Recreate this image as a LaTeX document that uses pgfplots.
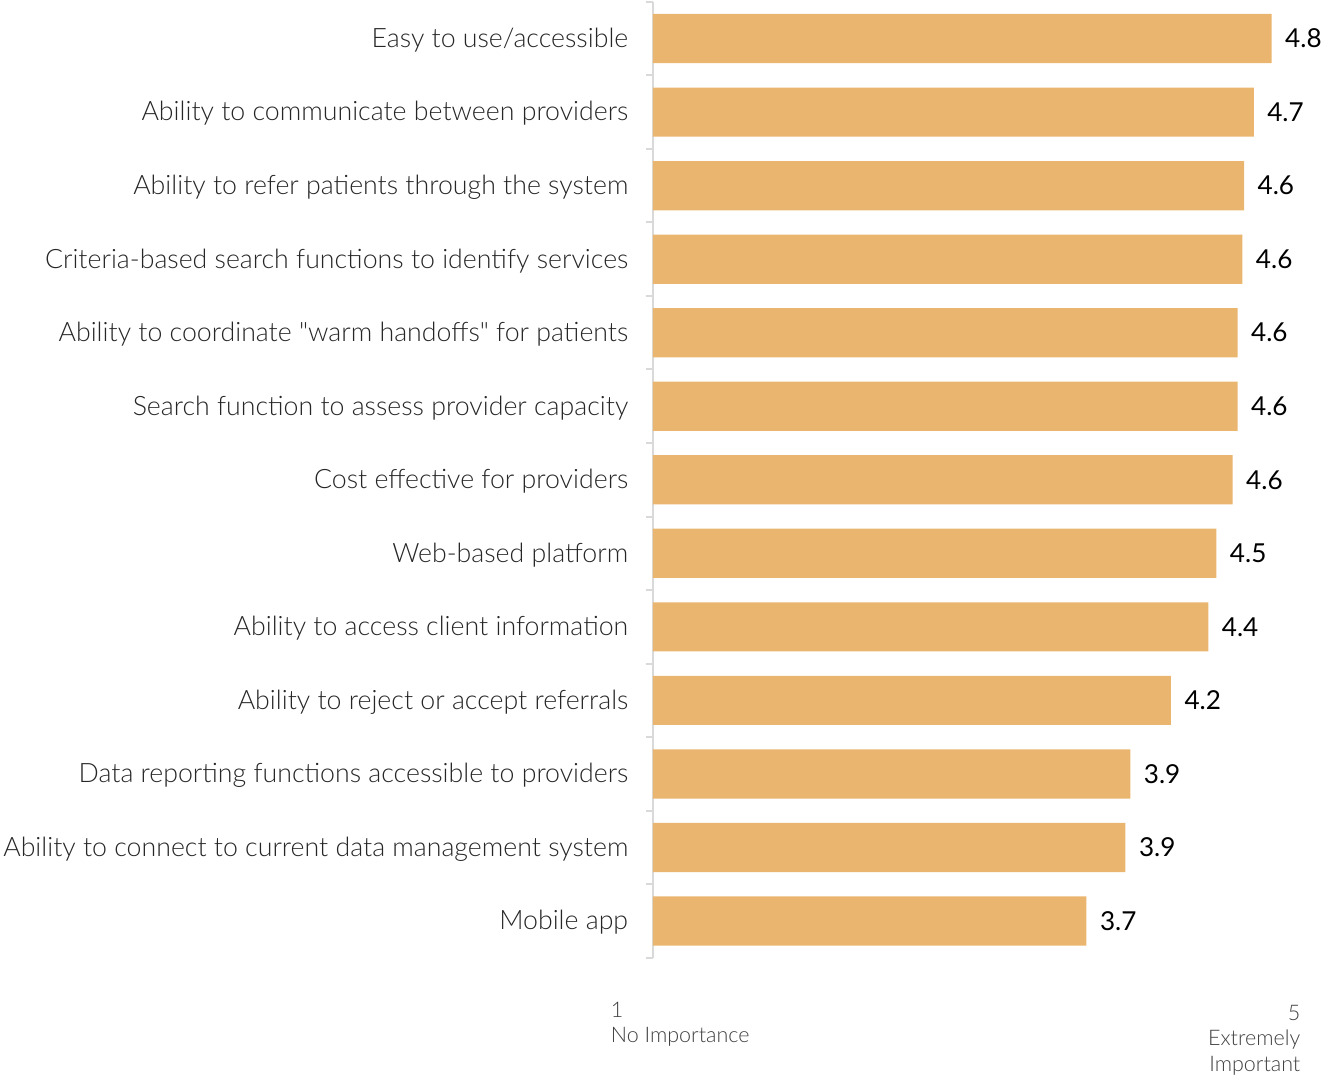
\documentclass[border=0pt]{standalone}
\usepackage{fontspec}
\setmainfont{Lato}
\newfontfamily\lightfont{Lato Light}
\usepackage{pgfplots}
\pgfplotsset{compat=1.18}
\definecolor{barc}{RGB}{233,181,111}
\definecolor{axc}{RGB}{217,217,217}
\definecolor{txt}{RGB}{38,38,38}
\definecolor{btxt}{RGB}{64,64,64}
\begin{document}
\begin{tikzpicture}
\begin{axis}[
  name=ax,
  xbar,
  scale only axis,
  width=647bp, height=952bp,
  xmin=1, xmax=5,
  ymin=-0.5, ymax=12.5,
  y dir=reverse,
  bar width=49bp,
  axis x line=none,
  axis y line=left,
  axis line style={-, draw=axc, line width=2bp},
  ytick={0,...,12},
  yticklabels={
    Easy to use/accessible,
    Ability to communicate between providers,
    Ability to refer patients through the system,
    Criteria-based search functions to identify services,
    Ability to coordinate "warm handoffs" for patients,
    Search function to assess provider capacity,
    Cost effective for providers,
    Web-based platform,
    Ability to access client information,
    Ability to reject or accept referrals,
    Data reporting functions accessible to providers,
    Ability to connect to current data management system,
    Mobile app},
  major tick length=0pt,
  y tick label style={font=\lightfont\fontsize{26.6bp}{30bp}\selectfont, text=txt, xshift=-21bp, yshift=-1.5bp},
  extra y ticks={-0.5,0.5,...,12.5},
  extra y tick labels={},
  extra y tick style={major tick length=7bp, tick align=outside, tick style={draw=axc, line width=2bp}},
  /pgf/number format/assume math mode=true,
  nodes near coords={\pgfmathprintnumber[fixed,precision=1,fixed zerofill,assume math mode=true]{\pgfplotspointmeta}},
  nodes near coords style={font=\fontsize{26bp}{30bp}\selectfont, text=black, anchor=west, xshift=10bp},
]
\addplot[fill=barc, draw=none] coordinates {
  (4.81,0) (4.70,1) (4.64,2) (4.63,3) (4.60,4) (4.60,5) (4.57,6)
  (4.47,7) (4.42,8) (4.19,9) (3.94,10) (3.91,11) (3.67,12)
};
\end{axis}
\node[anchor=north west, align=left, inner sep=0pt, font=\lightfont\fontsize{21.4bp}{25bp}\selectfont, text=btxt]
  at ([xshift=-42bp, yshift=-44bp]ax.south west) {1\\No Importance};
\node[anchor=north east, align=right, inner sep=0pt, font=\lightfont\fontsize{21.4bp}{25.5bp}\selectfont, text=btxt]
  at ([xshift=-2bp, yshift=-47bp]ax.south east) {5\\Extremely\\Important};
\end{tikzpicture}
\end{document}
